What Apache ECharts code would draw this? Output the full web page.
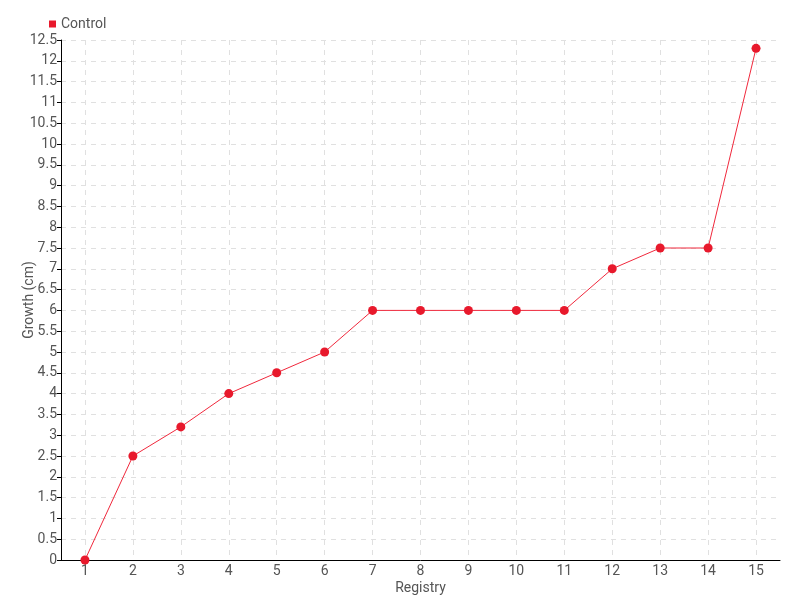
<!DOCTYPE html>
<html>
<head>
<meta charset="utf-8">
<script src="https://cdn.jsdelivr.net/npm/echarts@6/dist/echarts.min.js"></script>
<style>
  html, body { margin: 0; padding: 0; background: #fff; }
  #chart { width: 800px; height: 600px; }
</style>
</head>
<body>
<div id="chart"></div>
<script>
var registry = ["1", "2", "3", "4", "5", "6", "7", "8", "9", "10", "11", "12", "13", "14", "15"];
var control = [0, 2.5, 3.2, 4, 4.5, 5, 6, 6, 6, 6, 6, 7, 7.5, 7.5, 12.3];

var FONT = "Roboto, 'DejaVu Sans Condensed', sans-serif";
var chart = echarts.init(document.getElementById("chart"));

var option = {
  animation: false,
  textStyle: { fontFamily: FONT },
  legend: {
    left: 44,
    top: 12,
    itemWidth: 7,
    itemHeight: 7,
    itemGap: 10,
    icon: "rect",
    textStyle: { color: "#555", fontSize: 14, fontFamily: FONT },
    data: ["Control"]
  },
  grid: { left: 61, right: 20, top: 40, bottom: 40, outerBoundsMode: "none", containLabel: false },
  xAxis: {
    type: "category",
    data: registry,
    name: "Registry",
    nameLocation: "middle",
    nameGap: 21,
    nameMoveOverlap: false,
    nameTextStyle: { color: "#555", fontSize: 14, fontFamily: FONT },
    boundaryGap: true,
    axisLine: { lineStyle: { color: "#000", width: 1 } },
    axisTick: { alignWithLabel: true, length: 4, lineStyle: { color: "#000" } },
    axisLabel: { color: "#555", fontSize: 14, margin: 4, fontFamily: FONT },
    splitLine: {
      show: true,
      alignWithLabel: true,
      lineStyle: { color: "#e0e0e0", type: [5, 5] }
    }
  },
  yAxis: {
    type: "value",
    min: 0,
    max: 12.5,
    interval: 0.5,
    name: "Growth (cm)",
    nameLocation: "middle",
    nameGap: 25,
    nameMoveOverlap: false,
    nameTextStyle: { color: "#555", fontSize: 14, fontFamily: FONT },
    axisLine: { show: true, lineStyle: { color: "#000", width: 1 } },
    axisTick: { show: true, length: 4, lineStyle: { color: "#000" } },
    axisLabel: { color: "#555", fontSize: 14, margin: 4, fontFamily: FONT },
    splitLine: { show: true, lineStyle: { color: "#e0e0e0", type: [5, 5] } }
  },
  series: [
    {
      name: "Control",
      type: "line",
      data: control,
      symbol: "circle",
      symbolSize: 9,
      itemStyle: { color: "#e8192c" },
      lineStyle: { color: "#f0283c", width: 1 }
    }
  ]
};

chart.setOption(option);
</script>
</body>
</html>
